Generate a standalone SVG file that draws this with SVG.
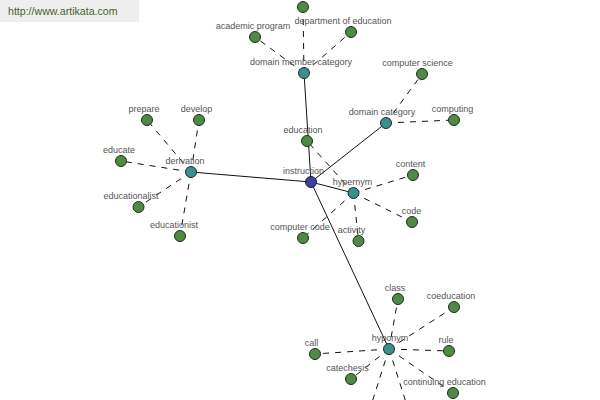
<svg xmlns="http://www.w3.org/2000/svg" width="600" height="400" viewBox="0 0 600 400">
<style>
.e{stroke:#111;stroke-width:1;fill:none}
.d{stroke:#111;stroke-width:1;fill:none;stroke-dasharray:6,6}
.g{fill:#4e8a44;stroke:#1d2f1a;stroke-width:1}
.t{fill:#3a8e8e;stroke:#1d2f2f;stroke-width:1}
.b{fill:#3f3f98;stroke:#1a1a3a;stroke-width:1}
text{font-family:"Liberation Sans",Arial,sans-serif;font-size:9px;fill:#555;text-anchor:middle}
</style>
<rect width="600" height="400" fill="#fff"/>
<g id="header"><rect x="0" y="0" width="139" height="22" fill="#eeeeee"/><text x="8" y="15" style="font-size:10.6px;fill:#4a5e2c;text-anchor:start">http://www.artikata.com</text></g>
<g id="connectors">
<line class="e" x1="311" y1="182" x2="304" y2="73"/>
<line class="e" x1="311" y1="182" x2="386" y2="123"/>
<line class="e" x1="311" y1="182" x2="191" y2="172"/>
<line class="e" x1="311" y1="182" x2="353.5" y2="193"/>
<line class="e" x1="311" y1="182" x2="389" y2="349"/>
<line class="d" x1="304" y1="73" x2="303" y2="7"/>
<line class="d" x1="304" y1="73" x2="255" y2="37"/>
<line class="d" x1="304" y1="73" x2="351" y2="32"/>
<line class="d" x1="386" y1="123" x2="422" y2="74"/>
<line class="d" x1="386" y1="123" x2="454" y2="120"/>
<line class="d" x1="191" y1="172" x2="147" y2="120"/>
<line class="d" x1="191" y1="172" x2="199" y2="120"/>
<line class="d" x1="191" y1="172" x2="121" y2="161"/>
<line class="d" x1="191" y1="172" x2="138.5" y2="207"/>
<line class="d" x1="191" y1="172" x2="180" y2="236"/>
<line class="d" x1="353.5" y1="193" x2="307" y2="141"/>
<line class="d" x1="353.5" y1="193" x2="413" y2="175"/>
<line class="d" x1="353.5" y1="193" x2="412" y2="222"/>
<line class="d" x1="353.5" y1="193" x2="358.5" y2="241"/>
<line class="d" x1="353.5" y1="193" x2="303" y2="238"/>
<line class="d" x1="389" y1="349" x2="398" y2="299"/>
<line class="d" x1="389" y1="349" x2="454" y2="307"/>
<line class="d" x1="389" y1="349" x2="449" y2="351"/>
<line class="d" x1="389" y1="349" x2="315" y2="354"/>
<line class="d" x1="389" y1="349" x2="351" y2="379"/>
<line class="d" x1="389" y1="349" x2="453" y2="393"/>
<line class="d" x1="389" y1="349" x2="368" y2="415"/>
<line class="d" x1="389" y1="349" x2="410" y2="415"/>
</g>
<g id="n-top"><circle class="g" cx="303" cy="7" r="5.5"/></g>
<g id="n-academic-program"><circle class="g" cx="255" cy="37" r="5.5"/><text x="253" y="29">academic program</text></g>
<g id="n-department-of-education"><circle class="g" cx="351" cy="32" r="5.5"/><text x="343" y="24">department of education</text></g>
<g id="n-domain-member-category"><circle class="t" cx="304" cy="73" r="5.5"/><text x="301" y="65">domain member category</text></g>
<g id="n-computer-science"><circle class="g" cx="422" cy="74" r="5.5"/><text x="417.5" y="66">computer science</text></g>
<g id="n-domain-category"><circle class="t" cx="386" cy="123" r="5.5"/><text x="382" y="115">domain category</text></g>
<g id="n-computing"><circle class="g" cx="454" cy="120" r="5.5"/><text x="452.5" y="112">computing</text></g>
<g id="n-prepare"><circle class="g" cx="147" cy="120" r="5.5"/><text x="144" y="112">prepare</text></g>
<g id="n-develop"><circle class="g" cx="199" cy="120" r="5.5"/><text x="196.5" y="112">develop</text></g>
<g id="n-educate"><circle class="g" cx="121" cy="161" r="5.5"/><text x="119" y="153">educate</text></g>
<g id="n-derivation"><circle class="t" cx="191" cy="172" r="5.5"/><text x="185" y="164">derivation</text></g>
<g id="n-educationalist"><circle class="g" cx="138.5" cy="207" r="5.5"/><text x="131" y="199">educationalist</text></g>
<g id="n-educationist"><circle class="g" cx="180" cy="236" r="5.5"/><text x="174" y="228">educationist</text></g>
<g id="n-education"><circle class="g" cx="307" cy="141" r="5.5"/><text x="303" y="133">education</text></g>
<g id="n-instruction"><circle class="b" cx="311" cy="182" r="5.5"/><text x="303.5" y="174">instruction</text></g>
<g id="n-hypernym"><circle class="t" cx="353.5" cy="193" r="5.5"/><text x="352.5" y="185">hypernym</text></g>
<g id="n-content"><circle class="g" cx="413" cy="175" r="5.5"/><text x="410.5" y="167">content</text></g>
<g id="n-code"><circle class="g" cx="412" cy="222" r="5.5"/><text x="411.5" y="214">code</text></g>
<g id="n-computer-code"><circle class="g" cx="303" cy="238" r="5.5"/><text x="300" y="230">computer code</text></g>
<g id="n-activity"><circle class="g" cx="358.5" cy="241" r="5.5"/><text x="351.5" y="233">activity</text></g>
<g id="n-class"><circle class="g" cx="398" cy="299" r="5.5"/><text x="395" y="291">class</text></g>
<g id="n-coeducation"><circle class="g" cx="454" cy="307" r="5.5"/><text x="451" y="299">coeducation</text></g>
<g id="n-hyponym"><circle class="t" cx="389" cy="349" r="5.5"/><text x="390" y="341">hyponym</text></g>
<g id="n-rule"><circle class="g" cx="449" cy="351" r="5.5"/><text x="446" y="343">rule</text></g>
<g id="n-call"><circle class="g" cx="315" cy="354" r="5.5"/><text x="311.5" y="346">call</text></g>
<g id="n-catechesis"><circle class="g" cx="351" cy="379" r="5.5"/><text x="347.5" y="371">catechesis</text></g>
<g id="n-continuing-education"><circle class="g" cx="453" cy="393" r="5.5"/><text x="444.5" y="385">continuing education</text></g>
</svg>
